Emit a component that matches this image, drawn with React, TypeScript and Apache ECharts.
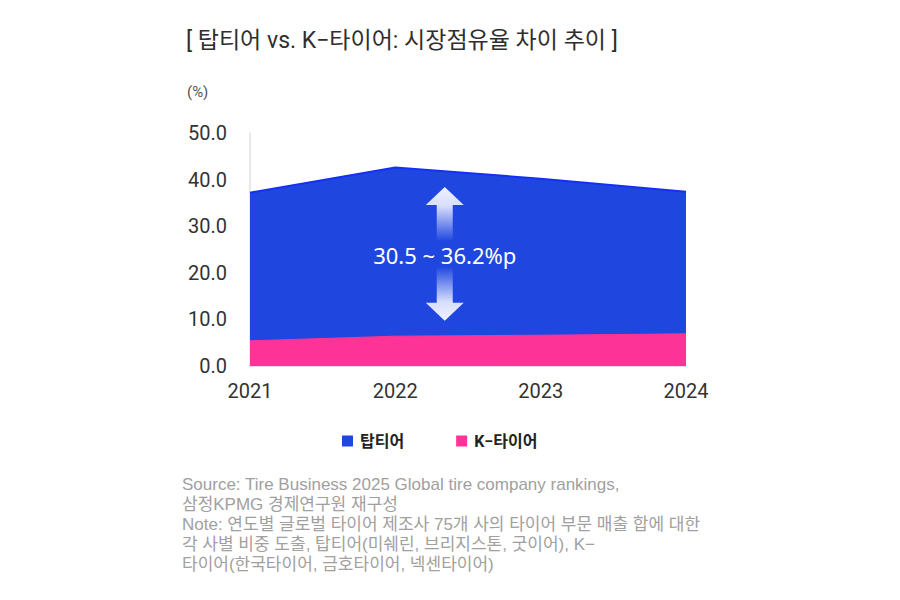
import { useRef, useEffect } from 'react'
import * as echarts from 'echarts'

const years = ['2021', '2022', '2023', '2024']
const topTier = [37.2, 42.6, 40.2, 37.4]
const kTire = [5.4, 6.4, 6.6, 6.9]
const yTicks = [0, 10, 20, 30, 40, 50]
const gapLabel = '30.5 ~ 36.2%p'
const arrowSpan = [38.4, 9.7]
const footnotes = [
  'Source: Tire Business 2025 Global tire company rankings,',
  '삼정KPMG 경제연구원 재구성',
  'Note: 연도별 글로벌 타이어 제조사 75개 사의 타이어 부문 매출 합에 대한',
  '각 사별 비중 도출, 탑티어(미쉐린, 브리지스톤, 굿이어), K−',
  '타이어(한국타이어, 금호타이어, 넥센타이어)',
]

const FONT = "Roboto, 'Noto Sans CJK KR', sans-serif"
const LABEL_FONT = "'Noto Sans', 'Noto Sans CJK KR', sans-serif"
const NOTE_FONT = "'Liberation Sans', 'Noto Sans CJK KR', sans-serif"
const BLUE = '#1f47e0'
const PINK = '#fd3397'

export default function App() {
  const ref = useRef<HTMLDivElement>(null)

  useEffect(() => {
    document.body.style.margin = '0'
    if (!ref.current) return
    const chart = echarts.init(ref.current, undefined, { renderer: 'svg' })

    chart.setOption({
      animation: false,
      backgroundColor: '#fff',
      textStyle: { fontFamily: FONT },
      title: [
        {
          text: '[ 탑티어 vs. K−타이어: 시장점유율 차이 추이 ]',
          left: 181,
          top: 24,
          textStyle: { fontSize: 23, fontWeight: 'normal', color: '#2e2e2e', fontFamily: FONT },
        },
        {
          text: '(%)',
          left: 182,
          top: 79,
          textStyle: { fontSize: 15, fontWeight: 'normal', color: '#555', fontFamily: FONT },
        },
      ],
      legend: {
        left: 337,
        top: 428,
        itemWidth: 11,
        itemHeight: 11,
        itemGap: 52,
        icon: 'rect',
        textStyle: { fontSize: 16, fontWeight: 'bold', color: '#222', fontFamily: FONT, padding: [0, 0, 0, 2] },
        data: ['탑티어', 'K−타이어'],
      },
      grid: { left: 250, right: 214, top: 133, bottom: 234 },
      xAxis: {
        type: 'category',
        data: years,
        boundaryGap: false,
        axisLine: { show: true, lineStyle: { color: '#dcc6ec', width: 1.5 } },
        axisTick: { show: false },
        axisLabel: { fontSize: 20, color: '#333', margin: 15, fontFamily: FONT },
        splitLine: { show: false },
      },
      yAxis: {
        type: 'value',
        min: yTicks[0],
        max: yTicks[yTicks.length - 1],
        interval: 10,
        axisLine: { show: true, lineStyle: { color: '#e2e2e2', width: 1.5 } },
        axisTick: { show: false },
        splitLine: { show: false },
        axisLabel: {
          fontSize: 20,
          color: '#333',
          margin: 23,
          fontFamily: FONT,
          formatter: (v: number) => v.toFixed(1),
        },
      },
      series: [
        {
          name: '탑티어',
          type: 'line',
          data: topTier,
          symbol: 'none',
          itemStyle: { color: BLUE },
          lineStyle: { color: '#1530f5', width: 2 },
          areaStyle: { color: BLUE, opacity: 1 },
          z: 2,
        },
        {
          name: 'K−타이어',
          type: 'line',
          data: kTire,
          symbol: 'none',
          itemStyle: { color: PINK },
          lineStyle: { color: PINK, width: 1 },
          areaStyle: { color: PINK, opacity: 1 },
          z: 3,
        },
      ],
    })

    // double-headed gap arrow between 2022 and 2023
    const x1 = chart.convertToPixel({ xAxisIndex: 0 }, years[1]) as number
    const x2 = chart.convertToPixel({ xAxisIndex: 0 }, years[2]) as number
    const cx = x1 + (x2 - x1) * 0.34
    const yTop = chart.convertToPixel({ yAxisIndex: 0 }, arrowSpan[0]) as number
    const yBot = chart.convertToPixel({ yAxisIndex: 0 }, arrowSpan[1]) as number
    const headW = 19
    const headH = 18
    const shaftW = 8
    const shaftLen = 36
    const fadeDown = new echarts.graphic.LinearGradient(0, 0, 0, 1, [
      { offset: 0, color: 'rgba(240,242,255,1)' },
      { offset: 0.35, color: 'rgba(225,230,255,0.95)' },
      { offset: 1, color: 'rgba(225,230,255,0)' },
    ])
    const fadeUp = new echarts.graphic.LinearGradient(0, 1, 0, 0, [
      { offset: 0, color: 'rgba(240,242,255,1)' },
      { offset: 0.35, color: 'rgba(225,230,255,0.95)' },
      { offset: 1, color: 'rgba(225,230,255,0)' },
    ])

    const noteLines = footnotes.map((line, i) => ({
      type: 'text',
      left: 182,
      top: 475 + i * 20,
      style: {
        text: line,
        fill: '#a0a0a0',
        fontSize: 17,
        lineHeight: 18,
        fontFamily: NOTE_FONT,
      },
    }))

    chart.setOption({
      graphic: [
        {
          type: 'polygon',
          shape: {
            points: [
              [cx, yTop],
              [cx + headW, yTop + headH],
              [cx + shaftW, yTop + headH],
              [cx + shaftW, yTop + headH + shaftLen],
              [cx - shaftW, yTop + headH + shaftLen],
              [cx - shaftW, yTop + headH],
              [cx - headW, yTop + headH],
            ],
          },
          style: { fill: fadeDown },
          z: 10,
        },
        {
          type: 'polygon',
          shape: {
            points: [
              [cx, yBot],
              [cx + headW, yBot - headH],
              [cx + shaftW, yBot - headH],
              [cx + shaftW, yBot - headH - shaftLen],
              [cx - shaftW, yBot - headH - shaftLen],
              [cx - shaftW, yBot - headH],
              [cx - headW, yBot - headH],
            ],
          },
          style: { fill: fadeUp },
          z: 10,
        },
        {
          type: 'text',
          x: cx,
          y: (yTop + yBot) / 2 + 1,
          z: 11,
          style: {
            text: gapLabel,
            fill: '#fff',
            fontSize: 22,
            fontFamily: LABEL_FONT,
            align: 'center',
            verticalAlign: 'middle',
          },
        },
        ...noteLines,
      ],
    })

    return () => chart.dispose()
  }, [])

  return <div ref={ref} style={{ width: 900, height: 600 }} />
}
